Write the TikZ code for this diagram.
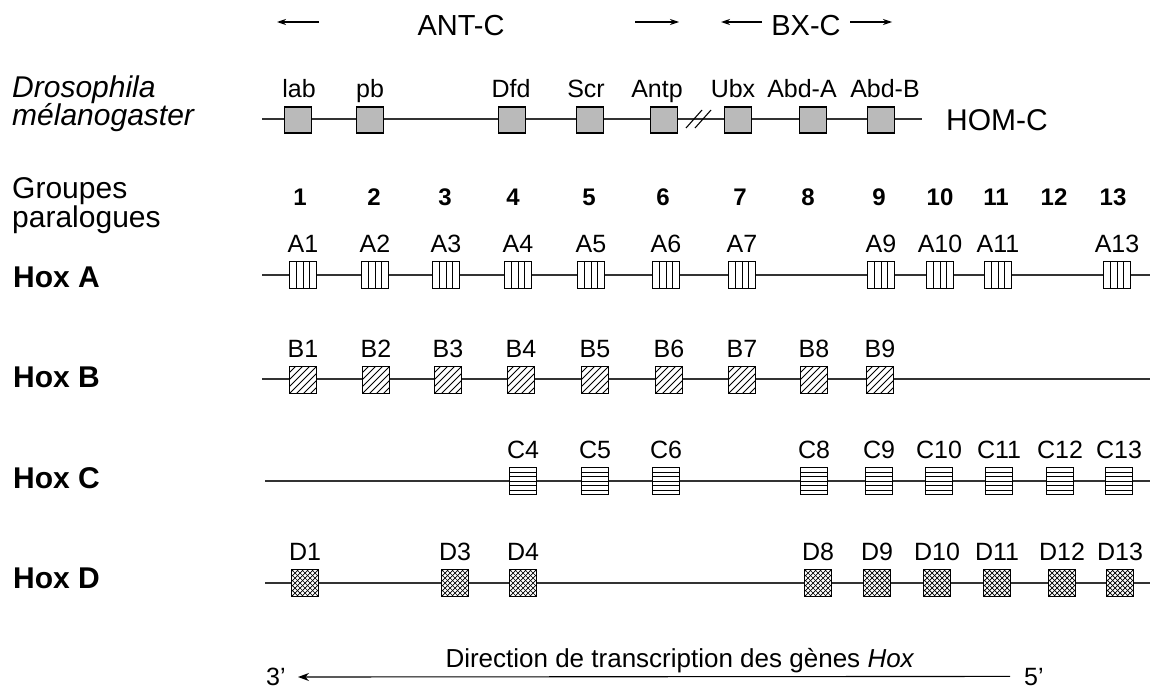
\documentclass[tikz,border=0pt]{standalone}
\usepackage{fontspec}
\setmainfont{Liberation Sans}
\usetikzlibrary{arrows.meta}
\definecolor{boxgray}{RGB}{186,186,186}
\begin{document}
\begin{tikzpicture}[x=1pt,y=-1pt,
  chrom/.style={line width=1.1pt,draw=black!80},
  gene/.style={draw,line width=1.4pt,fill=white,minimum width=27pt,minimum height=27pt,inner sep=0pt},
  homgene/.style={gene,fill=boxgray,minimum height=26pt},
  agene/.style={gene,path picture={
    \foreach \f in {6.75,13.5,20.25}
      \draw[line width=.8pt] ([xshift=\f pt]path picture bounding box.south west)
        -- ([xshift=\f pt]path picture bounding box.north west);}},
  bgene/.style={gene,path picture={
    \foreach \k in {-28,-21,...,28}
      \draw[line width=.8pt] ([xshift=\k pt]path picture bounding box.south west) -- ++(30,-30);}},
  cgene/.style={gene,path picture={
    \foreach \f in {4.5,9,13.5,18,22.5}
      \draw[line width=.8pt] ([yshift=\f pt]path picture bounding box.south west)
        -- ([yshift=\f pt]path picture bounding box.south east);}},
  dgene/.style={gene,path picture={
    \foreach \k in {-30,-25,...,30}
      {\draw[line width=.7pt] ([xshift=\k pt]path picture bounding box.south west) -- ++(30,-30);
       \draw[line width=.7pt] ([xshift=\k pt]path picture bounding box.south east) -- ++(-30,-30);}}},
  genelab/.style={anchor=base,inner sep=0pt,font=\fontsize{25}{27}\selectfont},
  grplab/.style={anchor=base,inner sep=0pt,font=\fontsize{24}{26}\selectfont\bfseries},
  sidelab/.style={anchor=base west,inner sep=0pt,font=\fontsize{30}{32}\selectfont},
  hoxlab/.style={sidelab,font=\fontsize{30}{32}\selectfont\bfseries},
  toplab/.style={anchor=base,inner sep=0pt,font=\fontsize{29}{31}\selectfont},
  dir/.style={line width=1.1pt,-{Stealth[length=9pt,width=6pt]}}]
\useasboundingbox (0,0) rectangle (1155,688);
% complexes
\coordinate (antl1) at (319,22); \coordinate (antl2) at (277,22);
\coordinate (antr1) at (635,22); \coordinate (antr2) at (679,22);
\coordinate (bxl1) at (762,22);  \coordinate (bxl2) at (721,22);
\coordinate (bxr1) at (850,22);  \coordinate (bxr2) at (892,22);
\node[toplab] (antc) at (461,35) {ANT-C};
\node[toplab] (bxc) at (806,35) {BX-C};
\draw[dir] (antl1)--(antl2);
\draw[dir] (antr1)--(antr2);
\draw[dir] (bxl1)--(bxl2);
\draw[dir] (bxr1)--(bxr2);
% drosophila
\node[sidelab] (dro1) at (12,97) {\itshape Drosophila};
\node[sidelab] (dro2) at (12,125) {\itshape mélanogaster};
\coordinate (Hl) at (262,119); \coordinate (Hr) at (922,119);
\draw[chrom] (Hl)--(Hr);
\foreach \i/\x/\lx/\t in {1/298/299/lab,2/370/370/pb,3/512/511/Dfd,4/590/586/Scr,5/664/657/Antp,6/738/733/Ubx,7/813/802/Abd-A,8/881/885/Abd-B}
  {\node[homgene] (H\i) at (\x,120) {};
   \node[genelab] (H\i t) at (\lx,97) {\t};}
\draw[line width=1.1pt] (686,128)--(702,110) (695,128)--(711,110);
\node[sidelab] (homc) at (946,130) {HOM-C};
% paralogous groups
\node[sidelab] (grp1) at (12,198) {Groupes};
\node[sidelab] (grp2) at (12,227) {paralogues};
\foreach \n/\x in {1/300,2/374,3/445,4/513,5/589,6/663,7/740,8/808,9/879,10/940,11/996,12/1054,13/1113}
  \node[grplab] (G\n) at (\x,205) {\n};
% Hox A
\node[hoxlab] (hoxa) at (13,287) {Hox A};
\coordinate (Al) at (262,275); \coordinate (Ar) at (1150,275);
\draw[chrom] (Al)--(Ar);
\foreach \n/\x in {1/303,2/375,3/446,4/518,5/591,6/666,7/742,9/881,10/940,11/998,13/1117}
  {\node[agene] (A\n) at (\x,275) {};
   \node[genelab] (A\n t) at ([yshift=8pt]A\n.north) {A\n};}
% Hox B
\node[hoxlab] (hoxb) at (13,387) {Hox B};
\coordinate (Bl) at (262,379); \coordinate (Br) at (1150,379);
\draw[chrom] (Bl)--(Br);
\foreach \n/\x in {1/303,2/376,3/448,4/521,5/595,6/669,7/742,8/814,9/880}
  {\node[bgene] (B\n) at (\x,380) {};
   \node[genelab] (B\n t) at ([yshift=8pt]B\n.north) {B\n};}
% Hox C
\node[hoxlab] (hoxc) at (13,488) {Hox C};
\coordinate (Cl) at (265,481); \coordinate (Cr) at (1150,481);
\draw[chrom] (Cl)--(Cr);
\foreach \n/\x in {4/523,5/595,6/666,8/814,9/879,10/939,11/999,12/1060,13/1119}
  {\node[cgene] (C\n) at (\x,481) {};
   \node[genelab] (C\n t) at ([yshift=8pt]C\n.north) {C\n};}
% Hox D
\node[hoxlab] (hoxd) at (13,588) {Hox D};
\coordinate (Dl) at (265,583); \coordinate (Dr) at (1150,583);
\draw[chrom] (Dl)--(Dr);
\foreach \n/\x in {1/305,3/455,4/523,8/818,9/877,10/937,11/997,12/1062,13/1120}
  {\node[dgene] (D\n) at (\x,583) {};
   \node[genelab] (D\n t) at ([yshift=8pt]D\n.north) {D\n};}
% transcription
\node[genelab,font=\fontsize{26}{28}\selectfont] (trans) at (680,667) {Direction de transcription des gènes \textit{Hox}};
\node[genelab,anchor=base west,text depth=0pt] (p3) at (266,685) {3’};
\node[genelab,anchor=base west,text depth=0pt] (p5) at (1024,685) {5’};
\draw[dir,-{Stealth[length=11pt,width=8pt]}] (p5.west)++(-14,0) -- (298,677);
\end{tikzpicture}
\end{document}
